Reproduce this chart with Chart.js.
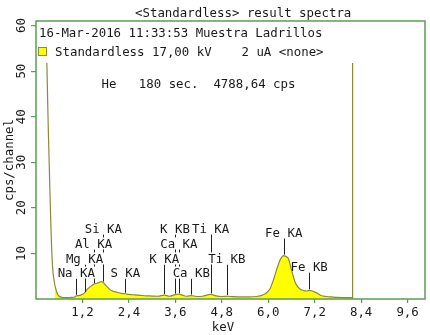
<!DOCTYPE html>
<html><head><meta charset="utf-8">
<script src="https://cdn.jsdelivr.net/npm/chart.js@4/dist/chart.umd.min.js"></script>
<style>html,body{margin:0;padding:0;background:#fff;}canvas{display:block;}</style>
</head><body>
<canvas id="c" width="430" height="335"></canvas>
<script>
// ---- data ----
const energyKeV = [0.28,0.30,0.32,0.34,0.36,0.38,0.40,0.42,0.44,0.46,0.48,0.50,0.53,0.56,0.60,0.65,0.70,0.80,0.90,1.00,1.04,1.10,1.17,1.25,1.32,1.40,1.48,1.55,1.62,1.68,1.74,1.80,1.86,1.92,1.98,2.05,2.12,2.20,2.31,2.40,2.55,2.70,2.85,3.00,3.15,3.31,3.45,3.59,3.69,3.80,3.90,4.01,4.15,4.30,4.51,4.65,4.80,4.93,5.10,5.30,5.50,5.70,5.85,5.95,6.05,6.15,6.25,6.32,6.40,6.46,6.52,6.60,6.69,6.76,6.82,6.90,6.99,7.06,7.14,7.22,7.30,7.38,7.50,7.64,7.80,8.00,8.18];
const countsCps = [51.8,44,36.5,30,23.5,17.5,12,8.2,5.8,4.4,3.4,2.6,1.7,1.0,0.6,0.4,0.3,0.3,0.35,0.45,0.7,0.75,0.9,1.3,2.1,2.7,3.2,3.4,3.6,3.8,3.6,3.0,2.5,2.0,1.75,1.55,1.4,1.25,1.15,1.0,0.9,0.8,0.7,0.65,0.6,0.85,0.6,0.95,1.05,0.8,0.6,0.75,0.55,0.6,1.0,0.7,0.55,0.6,0.5,0.45,0.45,0.55,0.85,1.3,2.3,4.6,7.3,8.8,9.5,9.3,8.9,6.4,3.8,2.7,2.2,1.9,1.75,1.9,1.75,1.45,1.1,0.7,0.55,0.45,0.35,0.3,0.3];
const fillStartKeV = 0.48;
const cutoffKeV = 8.18;
const cutoffCps = 51.8;
const xTickValues = [1.2,2.4,3.6,4.8,6.0,7.2,8.4,9.6];
const yTickValues = [10,20,30,40,50,60];
const lineNames = ["Na KA","Mg KA","Al KA","Si KA","S KA","K KA","K KB","Ca KA","Ca KB","Ti KA","Ti KB","Fe KA","Fe KB"];
const lineEnergies = [1.041,1.254,1.487,1.740,2.307,3.313,3.590,3.690,4.012,4.510,4.931,6.400,7.057];
const lineLabelCps = [5.8,8.9,12.2,15.5,5.8,8.9,15.5,12.2,5.8,15.5,8.9,14.6,7.1];
const titleText = "<Standardless> result spectra";
const headerText = "16-Mar-2016 11:33:53 Muestra Ladrillos";
const legendText = "Standardless 17,00 kV    2 uA <none>";
const infoText = "He   180 sec.  4788,64 cps";
const xTitle = "keV";
const yTitle = "cps/channel";

// ---- styles ----
const FONT = '"DejaVu Sans Mono", monospace';
const FS = 12.4;
const GREEN = '#5e9c52';
const OLIVE = '#8a8a38';
const YELLOW = '#ffff00';
const TXT = '#1a1a1a';

const allPts = energyKeV.map((e,i)=>({x:e,y:countsCps[i]}));
const fillPts = allPts.filter(p=>p.x>=fillStartKeV);

function spectrumAt(e){
  for(let i=0;i<energyKeV.length-1;i++){
    if(e>=energyKeV[i] && e<=energyKeV[i+1]){
      const t=(e-energyKeV[i])/(energyKeV[i+1]-energyKeV[i]);
      return countsCps[i]+t*(countsCps[i+1]-countsCps[i]);
    }
  }
  return 0;
}

const decor = {
  id:'decor',
  afterDatasetsDraw(chart){
    const {ctx, chartArea:a, scales:{x,y}} = chart;
    ctx.save();
    // element lines
    ctx.strokeStyle='#222'; ctx.lineWidth=1;
    lineEnergies.forEach((e,i)=>{
      const px=Math.round(x.getPixelForValue(e))+0.5;
      const top=y.getPixelForValue(lineLabelCps[i])+6;
      const bot=y.getPixelForValue(spectrumAt(e))-1;
      ctx.beginPath(); ctx.moveTo(px,top); ctx.lineTo(px,bot); ctx.stroke();
    });
    // labels
    ctx.font = FS+'px '+FONT;
    ctx.textAlign='center'; ctx.textBaseline='alphabetic';
    lineEnergies.forEach((e,i)=>{
      const px=x.getPixelForValue(e);
      const cy=y.getPixelForValue(lineLabelCps[i]);
      const w=ctx.measureText(lineNames[i]).width;
      if(!lineNames[i].startsWith('Fe')){
        ctx.fillStyle='#fff';
        ctx.fillRect(px-w/2-1, cy-6, w+2, 12);
      }
      ctx.fillStyle=TXT;
      ctx.fillText(lineNames[i], px, cy+4.5);
    });
    // frame
    ctx.strokeStyle=GREEN; ctx.lineWidth=1.5;
    ctx.strokeRect(a.left, a.top, a.right-a.left, a.bottom-a.top);
    ctx.restore();
  },
  afterDraw(chart){
    const {ctx, chartArea:a, scales:{x,y}} = chart;
    ctx.save();
    ctx.font = FS+'px '+FONT;
    ctx.fillStyle=TXT;
    ctx.textBaseline='alphabetic';
    ctx.textAlign='left';
    ctx.fillText(titleText, 135, 17);
    ctx.fillText(headerText, 39, 36.5);
    ctx.fillText(legendText, 55, 55.5);
    ctx.fillText(infoText, 101.5, 87.5);
    // legend swatch
    ctx.fillStyle=YELLOW; ctx.fillRect(38.5,47.5,8,8);
    ctx.strokeStyle=OLIVE; ctx.lineWidth=1; ctx.strokeRect(38.5,47.5,8,8);
    // x title
    ctx.fillStyle=TXT; ctx.textAlign='center';
    ctx.fillText(xTitle, 223, 330.5);
    // y tick labels (rotated)
    ctx.textBaseline='middle';
    yTickValues.forEach(v=>{
      const py=y.getPixelForValue(v);
      ctx.save(); ctx.translate(22, py); ctx.rotate(-Math.PI/2);
      ctx.fillText(String(v), 0, 0); ctx.restore();
    });
    // y title
    ctx.save(); ctx.translate(10, (a.top+a.bottom)/2); ctx.rotate(-Math.PI/2);
    ctx.fillText(yTitle, 0, 0); ctx.restore();
    ctx.restore();
  }
};

new Chart(document.getElementById('c'), {
  type:'line',
  data:{datasets:[
    {data:fillPts, fill:'origin', backgroundColor:YELLOW, borderWidth:0, pointRadius:0, cubicInterpolationMode:'monotone', order:3},
    {data:allPts, fill:false, borderColor:OLIVE, borderWidth:1.2, pointRadius:0, cubicInterpolationMode:'monotone', order:2},
    {data:[{x:cutoffKeV,y:0},{x:cutoffKeV,y:cutoffCps}], fill:false, borderColor:OLIVE, borderWidth:1.2, pointRadius:0, order:1}
  ]},
  options:{
    responsive:false, animation:false, devicePixelRatio:1,
    layout:{padding:{top:21,right:5,left:0,bottom:0}},
    plugins:{legend:{display:false}, tooltip:{enabled:false}, title:{display:false}},
    scales:{
      x:{type:'linear', min:0, max:10.05,
        afterBuildTicks:s=>{s.ticks=xTickValues.map(v=>({value:v}));},
        afterFit:s=>{s.height=36;},
        border:{display:false},
        grid:{drawOnChartArea:false, drawTicks:true, tickLength:4, color:GREEN, lineWidth:1.2},
        ticks:{padding:2, color:TXT, font:{family:FONT, size:FS}, maxRotation:0, autoSkip:false,
          callback:v=>Number(v).toFixed(1).replace('.',',')}
      },
      y:{type:'linear', min:0, max:61,
        afterBuildTicks:s=>{s.ticks=yTickValues.map(v=>({value:v}));},
        afterFit:s=>{s.width=36;},
        border:{display:false},
        grid:{drawOnChartArea:false, drawTicks:true, tickLength:5, color:GREEN, lineWidth:1.2},
        ticks:{display:false}
      }
    }
  },
  plugins:[decor]
});
</script>
</body></html>
